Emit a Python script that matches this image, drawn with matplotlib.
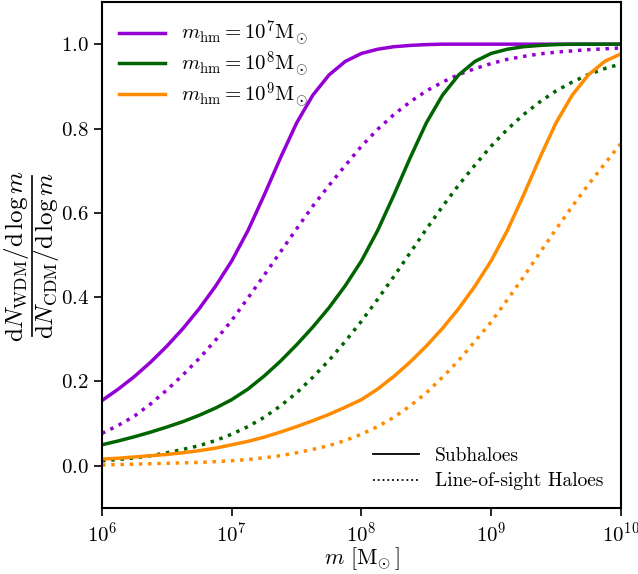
import numpy as np
import matplotlib
matplotlib.use("Agg")
import matplotlib.pyplot as plt
from matplotlib.lines import Line2D
from matplotlib.ticker import NullLocator

plt.rcParams.update({
    "font.family": "serif",
    "font.serif": ["cmr10"],
    "mathtext.fontset": "cm",
    "axes.formatter.use_mathtext": True,
    "axes.unicode_minus": False,
    "font.size": 15,
})

# log10 of halo mass, eighth-decade steps from 1e6 to 1e10
LOG_M = np.arange(6.0, 10.0001, 0.125)
HALF_MODE = [7, 8, 9]
COLORS = ["#9400d3", "#006400", "#ff8c00"]

# subhalo ratio
SUB_7 = [0.155, 0.182, 0.212, 0.246, 0.284, 0.326, 0.373, 0.426, 0.486, 0.558, 0.642,
         0.730, 0.813, 0.879, 0.927, 0.959, 0.978, 0.988, 0.994, 0.997, 0.999, 1.0,
         1.0, 1.0, 1.0, 1.0, 1.0, 1.0, 1.0, 1.0, 1.0, 1.0, 1.0]
SUB_8 = [0.050, 0.059, 0.069, 0.080, 0.092, 0.105, 0.120, 0.137, 0.157, 0.182, 0.213,
         0.248, 0.287, 0.329, 0.375, 0.427, 0.486, 0.558, 0.642, 0.730, 0.813, 0.879,
         0.927, 0.959, 0.978, 0.988, 0.994, 0.997, 0.999, 1.0, 1.0, 1.0, 1.0]
SUB_9 = [0.016, 0.018, 0.021, 0.024, 0.027, 0.031, 0.036, 0.042, 0.050, 0.058, 0.068,
         0.080, 0.093, 0.107, 0.122, 0.139, 0.157, 0.182, 0.212, 0.246, 0.284, 0.326,
         0.373, 0.426, 0.486, 0.558, 0.642, 0.730, 0.813, 0.879, 0.927, 0.959, 0.977]

# line-of-sight ratio
LOS_7 = [0.077, 0.096, 0.118, 0.147, 0.180, 0.216, 0.255, 0.298, 0.345, 0.398, 0.452,
         0.507, 0.562, 0.616, 0.665, 0.712, 0.758, 0.798, 0.833, 0.863, 0.889, 0.910,
         0.928, 0.942, 0.954, 0.964, 0.971, 0.977, 0.981, 0.984, 0.987, 0.989, 0.991]
LOS_8 = [0.012, 0.015, 0.019, 0.024, 0.031, 0.039, 0.048, 0.060, 0.075, 0.093, 0.115,
         0.142, 0.173, 0.210, 0.250, 0.295, 0.343, 0.395, 0.449, 0.505, 0.561, 0.615,
         0.666, 0.713, 0.758, 0.798, 0.833, 0.863, 0.889, 0.910, 0.928, 0.942, 0.953]
LOS_9 = [0.002, 0.003, 0.004, 0.005, 0.006, 0.007, 0.008, 0.010, 0.012, 0.015, 0.019,
         0.024, 0.031, 0.039, 0.048, 0.060, 0.075, 0.093, 0.115, 0.142, 0.173, 0.210,
         0.250, 0.295, 0.341, 0.394, 0.448, 0.505, 0.561, 0.615, 0.667, 0.716, 0.764]

SUB = [SUB_7, SUB_8, SUB_9]
LOS = [LOS_7, LOS_8, LOS_9]

W, H = 638, 574
fig = plt.figure(figsize=(W / 100, H / 100), dpi=100)
ax = fig.add_axes([0.16, 0.115, 0.813, 0.8815])

m = 10 ** LOG_M
handles = []
for hm, c, s, l in zip(HALF_MODE, COLORS, SUB, LOS):
    h, = ax.plot(m, s, color=c, lw=2.5, ls="-",
                 label=rf"$m_{{\rm hm}} = 10^{{{hm}}}{{\rm M}}_{{\!\odot}}$")
    ax.plot(m, l, color=c, lw=2.5, ls=":")
    handles.append(h)

ax.set_xscale("log")
ax.set_xlim(1e6, 1e10)
ax.set_ylim(-0.1, 1.1)
ax.set_yticks([0.0, 0.2, 0.4, 0.6, 0.8, 1.0])
ax.xaxis.set_minor_locator(NullLocator())
ax.tick_params(direction="out", length=6, width=1.2, labelsize=15)
for s in ax.spines.values():
    s.set_linewidth(1.5)

ax.set_xlabel(r"$m\ [{\rm M}_{\!\odot}]$", fontsize=16, labelpad=0)

# y label drawn as a stacked fraction: numerator, bar, denominator
yc = 1 - 256 / H
fig.text(17 / W, yc, r"${\rm d}N_{\rm WDM}/{\rm d}\,\log m$", rotation=90,
         ha="center", va="center", fontsize=18)
fig.text(47 / W, yc, r"${\rm d}N_{\rm CDM}/{\rm d}\,\log m$", rotation=90,
         ha="center", va="center", fontsize=18)
fig.add_artist(Line2D([32 / W, 32 / W], [1 - 176 / H, 1 - 336 / H], color="k", lw=1.2))

leg1 = ax.legend(handles=handles, loc="upper left", frameon=False, fontsize=15,
                 handlelength=2.2, borderaxespad=0.4, labelspacing=0.05)
ax.add_artist(leg1)
style_handles = [Line2D([], [], color="k", lw=1.3, ls="-"),
                 Line2D([], [], color="k", lw=1.3, ls=":")]
ax.legend(style_handles, ["Subhaloes", "Line-of-sight Haloes"], loc="lower right",
          frameon=False, fontsize=14, handlelength=2.4, labelspacing=0.4)

fig.savefig("out.png", dpi=100, facecolor="white")
